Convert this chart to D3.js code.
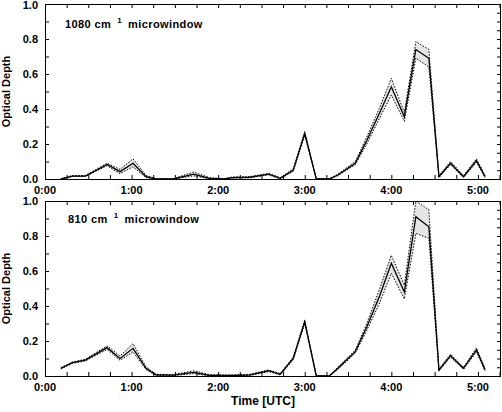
<!DOCTYPE html>
<html><head><meta charset="utf-8">
<script src="https://cdn.jsdelivr.net/npm/d3@7"></script>
<style>
html,body{margin:0;padding:0;background:#fff;}
svg text{font-family:"Liberation Sans",Arial,Helvetica,sans-serif;font-weight:bold;fill:#000;}
</style></head>
<body>
<svg id="chart" width="502" height="412"></svg>
<script>
// time of each sample, minutes after 0:00 UTC
const times = [11,19,28,43,52,61,70,77,89,103,114,124,130,142,155,163,172,180,188,197,203,215,223,232,240,249,257,266,273,281,290,299,305];

// 1080 cm-1 microwindow
const od1080 = [0,0.017,0.017,0.083,0.042,0.09,0.013,0,0,0.028,0.004,0,0.008,0.01,0.028,0.004,0.05,0.26,0,0,0.023,0.09,0.22,0.38,0.527,0.356,0.74,0.69,0.013,0.09,0.013,0.105,0.013];
const od1080Upper = [0,0.02,0.02,0.09,0.055,0.115,0.02,0.002,0.002,0.04,0.008,0.002,0.012,0.014,0.032,0.008,0.058,0.27,0.002,0.002,0.028,0.1,0.24,0.41,0.575,0.38,0.785,0.74,0.02,0.1,0.02,0.115,0.02];
const od1080Lower = [0,0.014,0.014,0.076,0.03,0.07,0.008,0,0,0.018,0.001,0,0.005,0.007,0.024,0.001,0.044,0.25,0,0,0.019,0.082,0.2,0.35,0.48,0.33,0.69,0.64,0.008,0.082,0.008,0.095,0.008];

// 810 cm-1 microwindow
const od810 = [0.044,0.076,0.091,0.162,0.10,0.158,0.044,0.006,0.005,0.021,0.004,0.003,0.003,0.006,0.03,0.01,0.10,0.31,0,0,0.044,0.139,0.28,0.46,0.644,0.48,0.91,0.853,0.034,0.116,0.044,0.149,0.034];
const od810Upper = [0.048,0.08,0.096,0.172,0.115,0.185,0.052,0.01,0.008,0.03,0.008,0.006,0.006,0.01,0.035,0.014,0.108,0.32,0.002,0.002,0.05,0.148,0.3,0.5,0.69,0.52,1.0,0.95,0.04,0.125,0.05,0.16,0.04];
const od810Lower = [0.04,0.072,0.086,0.152,0.09,0.138,0.036,0.003,0.002,0.014,0.001,0.001,0.001,0.003,0.025,0.006,0.092,0.30,0,0,0.038,0.13,0.26,0.42,0.587,0.44,0.815,0.787,0.028,0.108,0.038,0.138,0.028];

const xTickValues = [0,60,120,180,240,300];
const xTickLabels = ["0:00","1:00","2:00","3:00","4:00","5:00"];
const yTickValues = [0,0.2,0.4,0.6,0.8,1.0];
const yTickLabels = ["0.0","0.2","0.4","0.6","0.8","1.0"];

const panels = [
  {name:"1080", label:"1080 cm", od:od1080, up:od1080Upper, lo:od1080Lower, top:4, bottom:179, ty:28, tx:65},
  {name:"810", label:"810 cm", od:od810, up:od810Upper, lo:od810Lower, top:201, bottom:376, ty:223, tx:68}
];

const svg = d3.select("#chart");
const left = 45, right = 501;
const x = d3.scaleLinear().domain([0,316]).range([left,right]);

panels.forEach(p => {
  const y = d3.scaleLinear().domain([0,1]).range([p.bottom,p.top]);
  const g = svg.append("g");
  const rows = times.map((t,i)=>({t, v:p.od[i], u:p.up[i], l:p.lo[i]}));

  g.append("path").datum(rows)
    .attr("d", d3.area().x(d=>x(d.t)).y0(d=>y(d.l)).y1(d=>y(d.u)))
    .attr("fill","#e6e6e6").attr("stroke","none");
  g.append("path").datum(rows)
    .attr("d", d3.line().x(d=>x(d.t)).y(d=>y(d.u)))
    .attr("fill","none").attr("stroke","#000").attr("stroke-width",1).attr("stroke-dasharray","1.5,1.5");
  g.append("path").datum(rows)
    .attr("d", d3.line().x(d=>x(d.t)).y(d=>y(d.l)))
    .attr("fill","none").attr("stroke","#000").attr("stroke-width",1).attr("stroke-dasharray","1.5,1.5");
  g.append("path").datum(rows)
    .attr("d", d3.line().x(d=>x(d.t)).y(d=>y(d.v)))
    .attr("fill","none").attr("stroke","#000").attr("stroke-width",1.3);

  // axes with inward ticks
  const minorX = d3.range(0,316,15);
  g.append("g").attr("transform",`translate(0,${p.bottom})`)
    .call(d3.axisBottom(x).tickValues(minorX).tickSize(-4).tickFormat(""));
  g.append("g").attr("transform",`translate(0,${p.top})`)
    .call(d3.axisTop(x).tickValues(minorX).tickSize(-4).tickFormat(""));
  g.append("g").attr("transform",`translate(${left},0)`)
    .call(d3.axisLeft(y).tickValues(d3.range(0,1.01,0.1)).tickSize(-4).tickFormat(""));
  g.append("g").attr("transform",`translate(${right},0)`)
    .call(d3.axisRight(y).tickValues(d3.range(0,1.01,0.05)).tickSize(-4).tickFormat(""));
  g.selectAll(".domain").remove();
  g.selectAll(".tick line").attr("stroke","#000").attr("stroke-width",1);

  g.append("rect").attr("x",left+0.5).attr("y",p.top+0.5)
    .attr("width",right-left-1).attr("height",p.bottom-p.top)
    .attr("fill","none").attr("stroke","#000").attr("stroke-width",1);

  // tick labels
  g.selectAll(".yl").data(yTickValues).enter().append("text")
    .attr("x",38).attr("y",d=>Math.max(y(d)+4,9)).attr("text-anchor","end")
    .attr("font-size",11).text((d,i)=>yTickLabels[i]);
  g.selectAll(".xl").data(xTickValues).enter().append("text")
    .attr("x",d=>x(d)).attr("y",p.bottom+15).attr("text-anchor","middle")
    .attr("font-size",11).text((d,i)=>xTickLabels[i]);

  // y axis title
  g.append("text").attr("transform",`translate(10,${(p.top+p.bottom)/2}) rotate(-90)`)
    .attr("text-anchor","middle").attr("font-size",11).text("Optical Depth");

  // panel title
  const t = g.append("text").attr("x",p.tx).attr("y",p.ty).attr("font-size",11)
    .attr("letter-spacing",0.4);
  t.append("tspan").text(p.label);
  t.append("tspan").attr("dx",6).attr("dy",-5).attr("font-size",8).text("1");
  t.append("tspan").attr("dx",6).attr("dy",5).text("microwindow");
});

svg.append("text").attr("x",263).attr("y",405).attr("text-anchor","middle")
  .attr("font-size",12).text("Time [UTC]");
</script>
</body></html>
